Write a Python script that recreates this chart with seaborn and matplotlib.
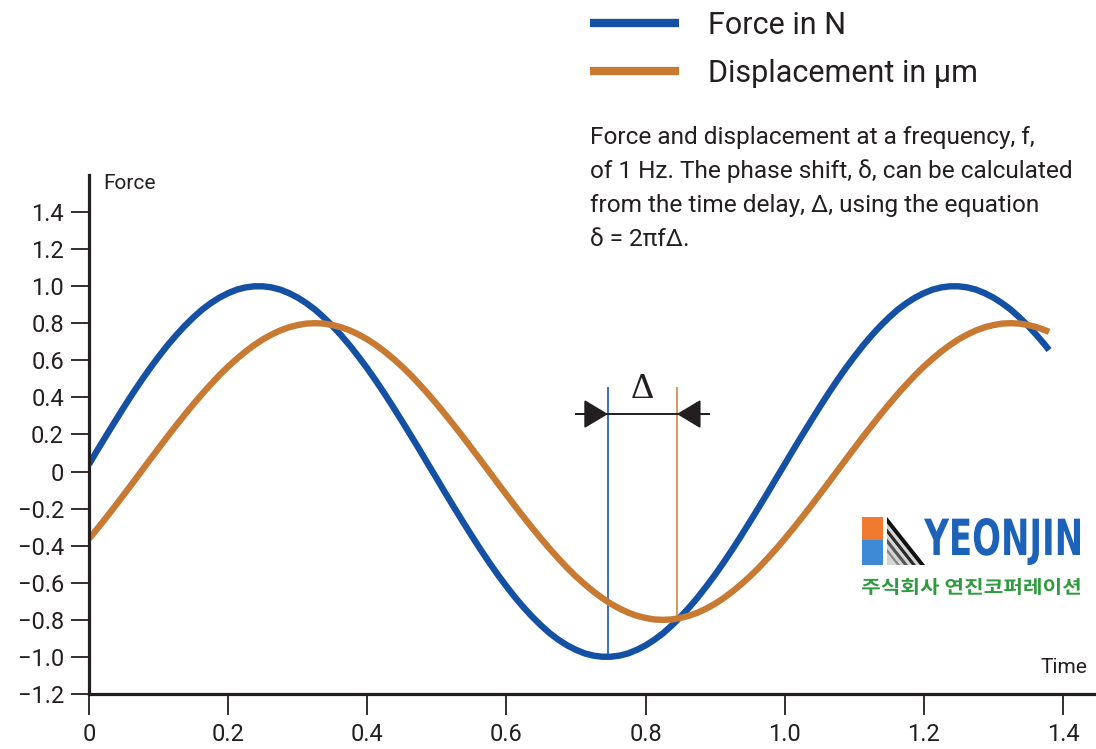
import numpy as np
import pandas as pd
import matplotlib
matplotlib.use("Agg")
import matplotlib.pyplot as plt
import seaborn as sns
from matplotlib.lines import Line2D
from matplotlib.patches import PathPatch, Rectangle, Polygon
from matplotlib.textpath import TextPath
from matplotlib.font_manager import FontProperties
from matplotlib.transforms import Affine2D

# ---- data -------------------------------------------------------------
# sampling grid in seconds (every 12.5 ms, plus the last sample)
time = [round(0.0125 * k, 4) for k in range(111)] + [1.38]

force = [0.039, 0.118, 0.195, 0.271, 0.346, 0.419, 0.489, 0.556, 0.619, 0.679,
         0.734, 0.785, 0.831, 0.873, 0.908, 0.938, 0.962, 0.981, 0.993, 0.999,
         0.999, 0.993, 0.981, 0.962, 0.938, 0.908, 0.873, 0.831, 0.785, 0.734,
         0.679, 0.619, 0.556, 0.489, 0.419, 0.346, 0.271, 0.195, 0.118, 0.039,
         -0.039, -0.118, -0.195, -0.271, -0.346, -0.419, -0.489, -0.556, -0.619, -0.679,
         -0.734, -0.785, -0.831, -0.873, -0.908, -0.938, -0.962, -0.981, -0.993, -0.999,
         -0.999, -0.993, -0.981, -0.962, -0.938, -0.908, -0.873, -0.831, -0.785, -0.734,
         -0.679, -0.619, -0.556, -0.489, -0.419, -0.346, -0.271, -0.195, -0.118, -0.039,
         0.039, 0.118, 0.195, 0.271, 0.346, 0.419, 0.489, 0.556, 0.619, 0.679,
         0.734, 0.785, 0.831, 0.873, 0.908, 0.938, 0.962, 0.981, 0.993, 0.999,
         0.999, 0.993, 0.981, 0.962, 0.938, 0.908, 0.873, 0.831, 0.785, 0.734,
         0.679, 0.655]

displacement = [-0.363, -0.306, -0.247, -0.187, -0.125, -0.063,
                0.000, 0.063, 0.125, 0.187, 0.247, 0.306, 0.363, 0.418, 0.470, 0.520,
                0.566, 0.608, 0.647, 0.682, 0.713, 0.739, 0.761, 0.778, 0.790, 0.798, 0.800,
                0.798, 0.790, 0.778, 0.761, 0.739, 0.713, 0.682, 0.647, 0.608, 0.566,
                0.520, 0.470, 0.418, 0.363, 0.306, 0.247, 0.187, 0.125, 0.063, 0.000,
                -0.063, -0.125, -0.187, -0.247, -0.306, -0.363, -0.418, -0.470, -0.520, -0.566,
                -0.608, -0.647, -0.682, -0.713, -0.739, -0.761, -0.778, -0.790, -0.798, -0.800,
                -0.798, -0.790, -0.778, -0.761, -0.739, -0.713, -0.682, -0.647, -0.608, -0.566,
                -0.520, -0.470, -0.418, -0.363, -0.306, -0.247, -0.187, -0.125, -0.063, 0.000,
                0.063, 0.125, 0.187, 0.247, 0.306, 0.363, 0.418, 0.470, 0.520, 0.566,
                0.608, 0.647, 0.682, 0.713, 0.739, 0.761, 0.778, 0.790, 0.798, 0.800,
                0.798, 0.790, 0.778, 0.761, 0.753]

series_names = ["Force in N", "Displacement in μm"]

y_ticks = [-1.2, -1.0, -0.8, -0.6, -0.4, -0.2, 0, 0.2, 0.4, 0.6, 0.8, 1.0, 1.2, 1.4]
y_tick_labels = ["−1.2", "−1.0", "−0.8", "−0.6", "−0.4", "−0.2", "0",
                 "0.2", "0.4", "0.6", "0.8", "1.0", "1.2", "1.4"]
x_ticks = [0, 0.2, 0.4, 0.6, 0.8, 1.0, 1.2, 1.4]
x_tick_labels = ["0", "0.2", "0.4", "0.6", "0.8", "1.0", "1.2", "1.4"]

# time delay between force minimum and displacement minimum
delay_start = 0.746
delay_end = 0.845

caption = ["Force and displacement at a frequency, f,",
           "of 1 Hz. The phase shift, δ, can be calculated",
           "from the time delay, Δ, using the equation",
           "δ = 2πfΔ."]

# ---- style ------------------------------------------------------------
sns.set_theme(style="white")
plt.rcParams["font.family"] = ["Roboto", "DejaVu Sans"]

INK = "#231f20"
BLUE = "#1450a3"
ORANGE = "#c87a32"

W, H = 1096, 749
fig = plt.figure(figsize=(W / 100, H / 100), dpi=100)
fig.patch.set_facecolor("white")
ax = fig.add_axes([89 / W, 1 - 694 / H, (W - 89) / W, (694 - 175) / H])
ax.set_facecolor("white")

long = pd.DataFrame({"Time": time * 2,
                     "value": force + displacement,
                     "series": [series_names[0]] * len(time) + [series_names[1]] * len(time)})

sns.lineplot(data=long, x="Time", y="value", hue="series", hue_order=series_names,
             palette=[BLUE, ORANGE], linewidth=4.6, ax=ax, legend=False, sort=False)
for ln in ax.lines:
    ln.set_solid_joinstyle("round")
    ln.set_solid_capstyle("butt")

ax.set_xlim(0, (W - 89) / 695.7)
ax.set_ylim(-1.2, -1.2 + (694 - 175) / 185.4)
ax.set_xlabel("")
ax.set_ylabel("")

for side in ["top", "right"]:
    ax.spines[side].set_visible(False)
for side in ["left", "bottom"]:
    ax.spines[side].set_color(INK)
    ax.spines[side].set_linewidth(2.3)

ax.set_yticks(y_ticks)
ax.set_yticklabels(y_tick_labels)
ax.set_xticks(x_ticks)
ax.set_xticklabels(x_tick_labels)
ax.tick_params(axis="y", direction="out", length=13, width=1.3, color=INK,
               pad=5, labelsize=17, labelcolor=INK, left=True)
ax.tick_params(axis="x", direction="out", length=15, width=1.3, color=INK,
               pad=6, labelsize=17, labelcolor=INK, bottom=True)

# axis captions
fig.text(103 / W, 1 - 189 / H, "Force", fontsize=15, color=INK, va="baseline")
fig.text(1087 / W, 1 - 673 / H, "Time", fontsize=15, color=INK, va="baseline", ha="right")

# ---- time delay marker ----------------------------------------------
marker_top = 0.455
arrow_y = 0.31
f_at = np.interp(delay_start, time, force)
d_at = np.interp(delay_end, time, displacement)
ax.vlines(delay_start, f_at, marker_top, color="#2a64c2", lw=1.3, zorder=1)
ax.vlines(delay_end, d_at, marker_top, color="#d4924c", lw=1.3, zorder=1)
ax.hlines(arrow_y, delay_start - 0.047, delay_end + 0.048, color=INK, lw=1.4, zorder=3)
head = dict(arrowstyle="-|>,head_length=0.75,head_width=0.45", mutation_scale=20,
            color=INK, lw=1.4, shrinkA=0, shrinkB=0)
ax.annotate("", xy=(delay_start, arrow_y), xytext=(delay_start - 0.045, arrow_y), arrowprops=head)
ax.annotate("", xy=(delay_end, arrow_y), xytext=(delay_end + 0.045, arrow_y), arrowprops=head)
ax.text((delay_start + delay_end) / 2, 0.44, "Δ", family="Liberation Serif",
        fontsize=26, color=INK, ha="center", va="center")

# ---- legend and caption ---------------------------------------------
handles = [Line2D([], [], color=BLUE, lw=6, solid_capstyle="butt"),
           Line2D([], [], color=ORANGE, lw=6, solid_capstyle="butt")]
fig.legend(handles, series_names, loc="upper left",
           bbox_to_anchor=(590 / W, 1 - 11 / H), frameon=False, fontsize=22,
           handlelength=2.9, handletextpad=0.95, labelspacing=0.62,
           borderpad=0, borderaxespad=0, labelcolor=INK)

for i, line in enumerate(caption):
    base = [144, 178, 212, 246][i]
    fig.text(590 / W, 1 - base / H, line, fontsize=17.6, color=INK, va="baseline")

# ---- company logo ----------------------------------------------------
lax = fig.add_axes([862 / W, 1 - 600 / H, 218 / W, 85 / H])
lax.set_xlim(0, 218)
lax.set_ylim(85, 0)
lax.axis("off")


def fitted_text(ax_, text, prop, x0, x1, y0, y1, color):
    path = TextPath((0, 0), text, size=1, prop=prop)
    ext = path.get_extents()
    tr = (Affine2D().translate(-ext.x0, -ext.y0)
          .scale((x1 - x0) / ext.width, -(y1 - y0) / ext.height)
          .translate(x0, y1))
    ax_.add_patch(PathPatch(tr.transform_path(path), facecolor=color, edgecolor="none"))


lax.add_patch(Rectangle((0, 2), 21, 23, facecolor="#ef7a30", edgecolor="none"))
lax.add_patch(Rectangle((0, 25), 21, 25, facecolor="#3f8ad6", edgecolor="none"))
lax.add_patch(Polygon([(25, 2), (25, 50), (63, 50)], closed=True,
                      facecolor="#d6d6d6", edgecolor="none"))
for s1, s2, c in [(0, 5, "#111111"), (9, 13, "#2a2a2a"), (17, 21, "#555555"), (25, 28, "#888888")]:
    lax.add_patch(Polygon([(25, 2 + 1.263 * s1), (63 - s1, 50),
                           (63 - s2, 50), (25, 2 + 1.263 * s2)],
                          closed=True, facecolor=c, edgecolor="none"))

fitted_text(lax, "YEONJIN", FontProperties(family="DejaVu Sans", weight="bold"),
            62, 218, 3, 50, "#1b62b8")
fitted_text(lax, "주식회사 연진코퍼레이션",
            FontProperties(family="Noto Sans CJK KR", weight="bold"),
            0, 218, 63, 80, "#2f9a3f")

fig.savefig("out.png", dpi=100, facecolor="white")
